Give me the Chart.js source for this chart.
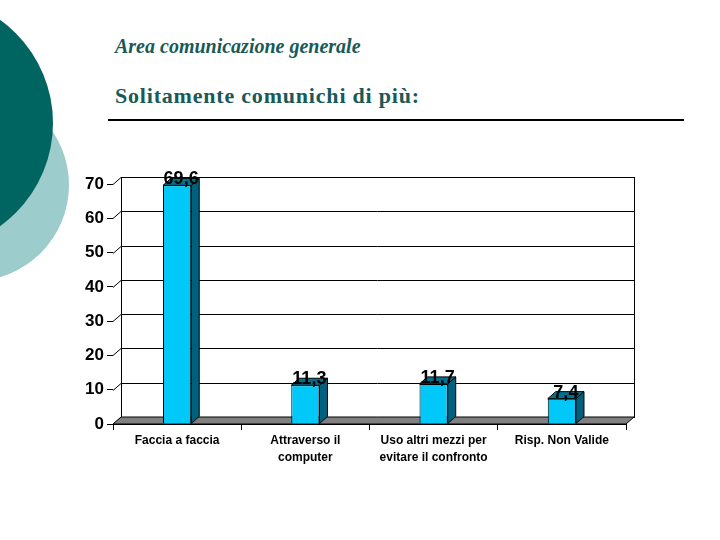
<!DOCTYPE html>
<html>
<head>
<meta charset="utf-8">
<script src="https://cdn.jsdelivr.net/npm/chart.js@4"></script>
<style>
  body { margin: 0; width: 720px; height: 540px; background: #fff; overflow: hidden; position: relative; }
  .circle { position: absolute; border-radius: 50%; }
  #light { left: -123px; top: 89px; width: 192px; height: 192px; background: #9ccccc; }
  #dark { left: -201px; top: -4px; width: 254px; height: 254px; background: #006461; }
  #sub { position: absolute; left: 115px; top: 35px; font: italic bold 20px "Liberation Serif", "Times New Roman", serif; color: #175a58; }
  #title { position: absolute; left: 115px; top: 83px; font: bold 22px "Liberation Serif", "Times New Roman", serif; letter-spacing: 0.8px; color: #175a58; }
  #rule { position: absolute; left: 108px; top: 119px; width: 576px; height: 2px; background: #000; }
  #chart { position: absolute; left: 0; top: 0; }
</style>
</head>
<body>
<div class="circle" id="light"></div>
<div class="circle" id="dark"></div>
<div id="sub">Area comunicazione generale</div>
<div id="title">Solitamente comunichi di più:</div>
<div id="rule"></div>
<canvas id="chart" width="720" height="540"></canvas>
<script>
const categories = ['Faccia a faccia', ['Attraverso il', 'computer'], ['Uso altri mezzi per', 'evitare il confronto'], 'Risp. Non Valide'];
const values = [69.6, 11.3, 11.7, 7.4];
const yTicks = [0, 10, 20, 30, 40, 50, 60, 70];

// depth of the fake 3d
const DX = 8;
const DY = -7;

const wallPlugin = {
  id: 'wall',
  beforeDatasetsDraw(chart) {
    const ctx = chart.ctx;
    const x = chart.scales.x;
    const y = chart.scales.y;
    const left = x.left, right = x.right;
    const y0 = y.getPixelForValue(0);
    const yTop = y.getPixelForValue(yTicks[yTicks.length - 1]);
    ctx.save();
    ctx.strokeStyle = '#000';
    ctx.lineWidth = 1;
    // back wall
    ctx.strokeRect(left + DX + 0.5, yTop + DY + 0.5, right - left, y0 - yTop);
    yTicks.forEach(v => {
      const py = Math.round(y.getPixelForValue(v)) + 0.5;
      ctx.beginPath();
      ctx.moveTo(left + DX, py + DY);
      ctx.lineTo(right + DX, py + DY);
      ctx.stroke();
      // connector from front tick to the wall
      ctx.beginPath();
      ctx.moveTo(left, py);
      ctx.lineTo(left + DX, py + DY);
      ctx.stroke();
    });
    // floor
    ctx.beginPath();
    ctx.moveTo(left, y0);
    ctx.lineTo(left + DX, y0 + DY);
    ctx.lineTo(right + DX, y0 + DY);
    ctx.lineTo(right, y0);
    ctx.closePath();
    ctx.fillStyle = '#808080';
    ctx.fill();
    ctx.stroke();
    ctx.restore();
  },
  afterDatasetsDraw(chart) {
    const ctx = chart.ctx;
    const meta = chart.getDatasetMeta(0);
    ctx.save();
    ctx.strokeStyle = '#000';
    ctx.lineWidth = 1;
    meta.data.forEach((bar, i) => {
      const l = bar.x - bar.width / 2;
      const r = bar.x + bar.width / 2;
      const t = bar.y;
      const b = bar.base;
      // side
      ctx.beginPath();
      ctx.moveTo(r, b);
      ctx.lineTo(r + DX, b + DY);
      ctx.lineTo(r + DX, t + DY);
      ctx.lineTo(r, t);
      ctx.closePath();
      ctx.fillStyle = '#00617f';
      ctx.fill();
      ctx.stroke();
      // top
      ctx.beginPath();
      ctx.moveTo(l, t);
      ctx.lineTo(l + DX, t + DY);
      ctx.lineTo(r + DX, t + DY);
      ctx.lineTo(r, t);
      ctx.closePath();
      ctx.fillStyle = '#00718f';
      ctx.fill();
      ctx.stroke();
      // value label
      ctx.fillStyle = '#000';
      ctx.font = 'bold 18px "Liberation Sans", Arial, sans-serif';
      ctx.textAlign = 'center';
      ctx.textBaseline = 'bottom';
      ctx.fillText(values[i].toFixed(1).replace('.', ','), bar.x + DX / 2, t + 3);
    });
    ctx.restore();
  }
};

new Chart(document.getElementById('chart'), {
  type: 'bar',
  data: {
    labels: categories,
    datasets: [{
      data: values,
      backgroundColor: '#00c8f8',
      borderColor: '#000',
      borderWidth: 1,
      categoryPercentage: 1,
      barPercentage: 0.22
    }]
  },
  options: {
    responsive: false,
    animation: false,
    layout: { padding: { left: 63, top: 184, right: 94, bottom: 66 } },
    plugins: { legend: { display: false }, tooltip: { enabled: false } },
    scales: {
      x: {
        afterFit: s => { s.height = 50; },
        grid: { drawOnChartArea: false, tickLength: 6, color: '#000', offset: true },
        border: { display: true, color: '#000' },
        ticks: {
          color: '#000',
          font: { family: '"Liberation Sans", Arial, sans-serif', size: 12, weight: 'bold', lineHeight: 1.35 },
          maxRotation: 0,
          autoSkip: false,
          padding: 3
        }
      },
      y: {
        min: 0,
        max: 70,
        afterFit: s => { s.width = 50; },
        grid: { drawOnChartArea: false, tickLength: 6, color: '#000' },
        border: { display: false },
        ticks: {
          stepSize: 10,
          color: '#000',
          font: { family: '"Liberation Sans", Arial, sans-serif', size: 17, weight: 'bold' },
          padding: 3
        }
      }
    }
  },
  plugins: [wallPlugin]
});
</script>
</body>
</html>
